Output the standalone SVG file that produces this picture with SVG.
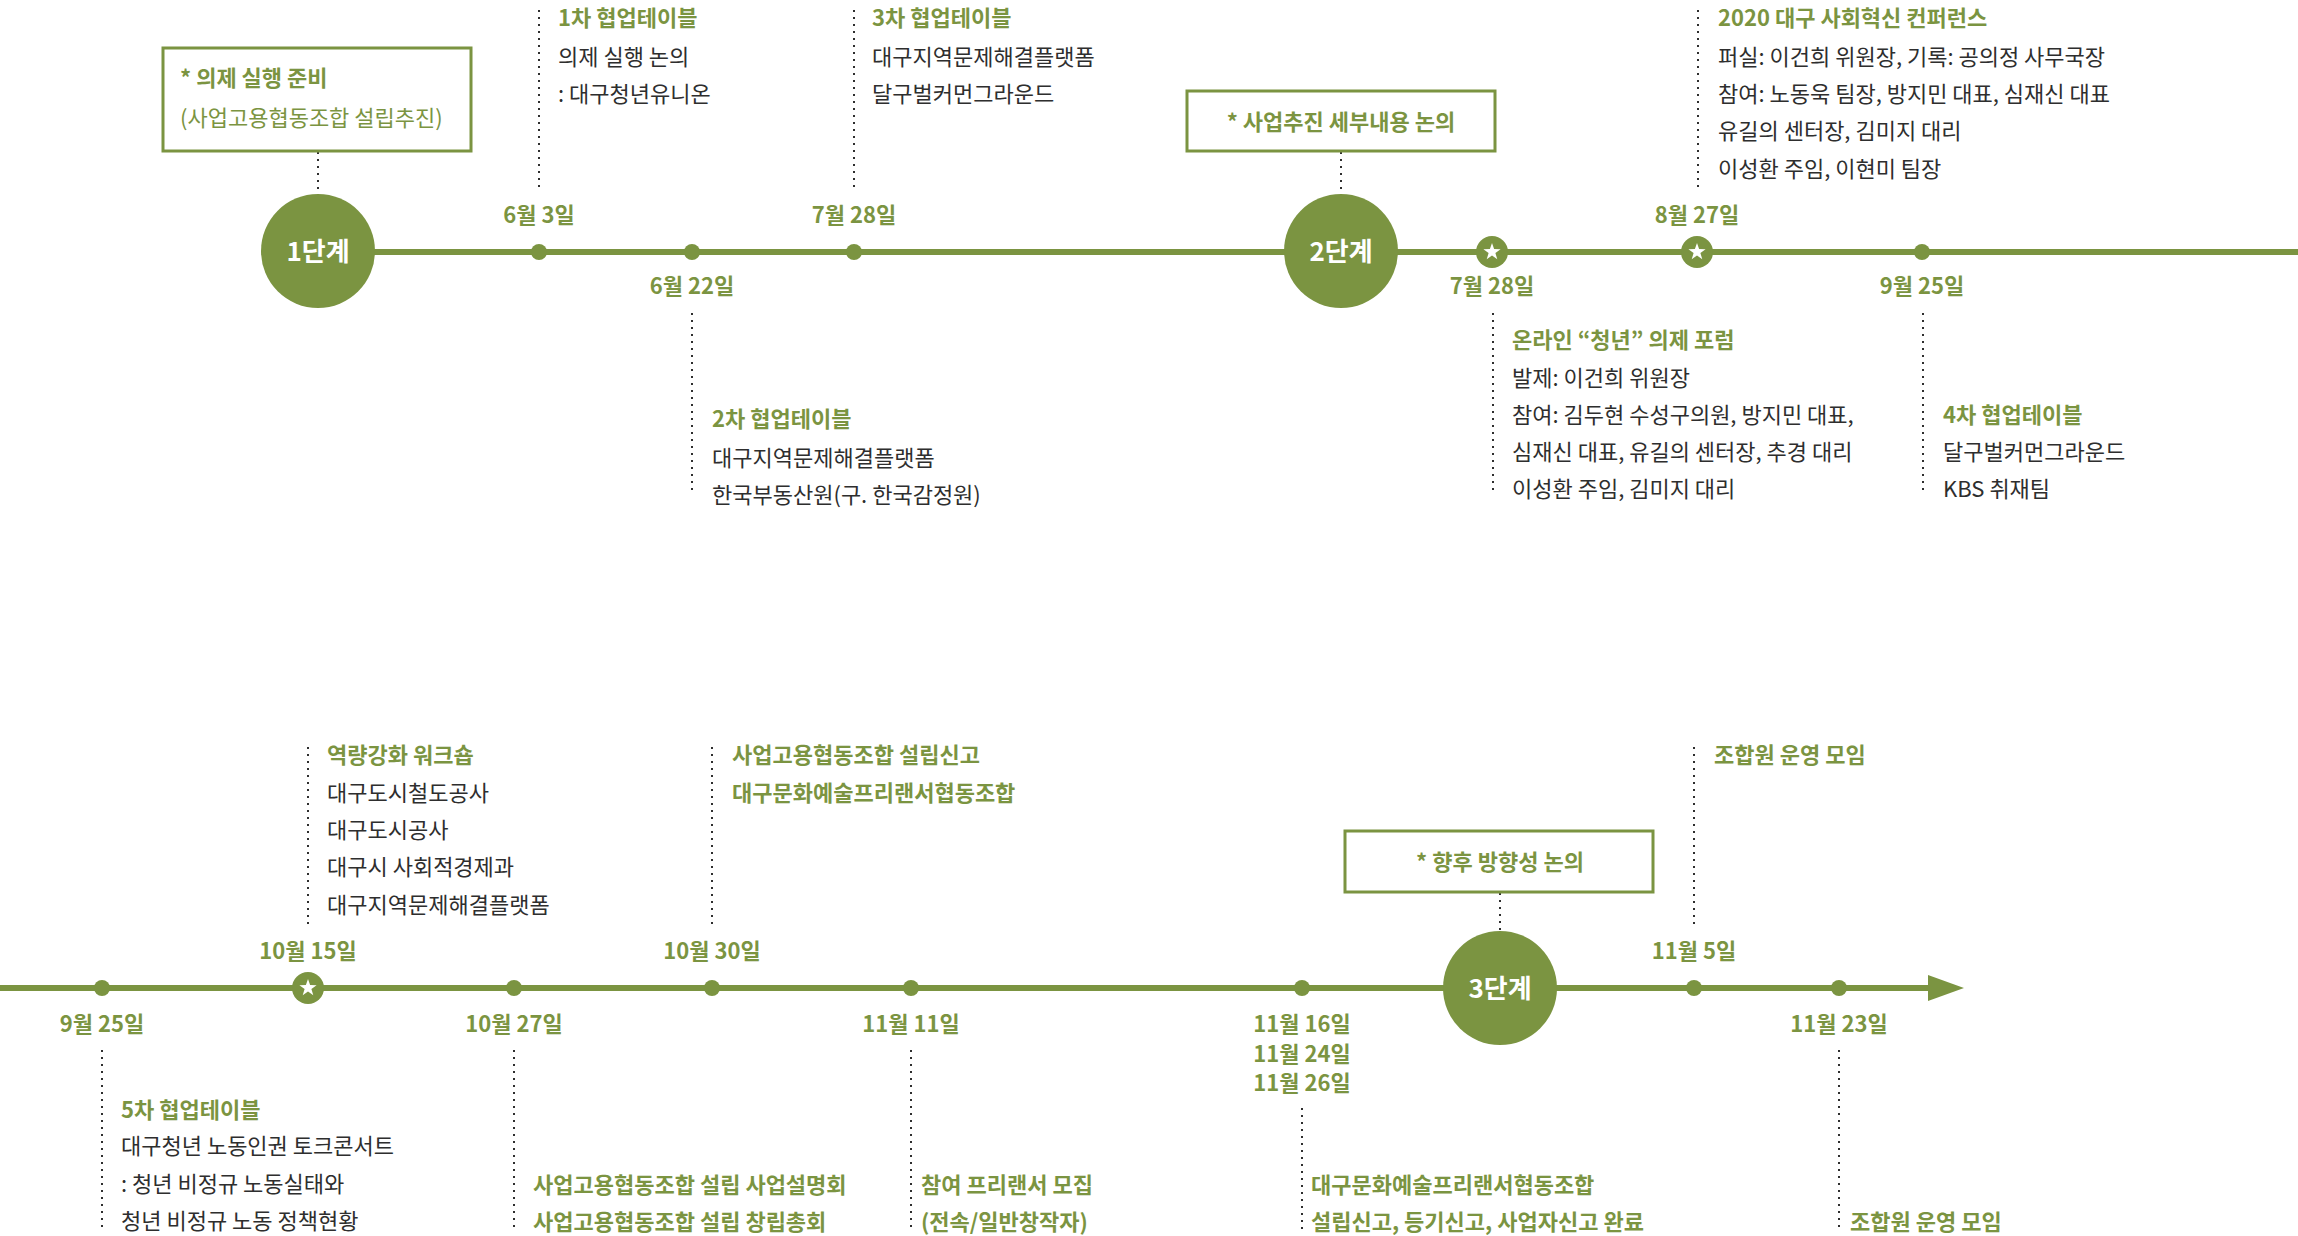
<svg xmlns="http://www.w3.org/2000/svg" width="2298" height="1236" viewBox="0 0 2298 1236">
<style>
text{font-family:"Noto Sans CJK KR","Noto Sans",sans-serif}
.g{fill:#7b9441;font-weight:700;font-size:22px}
.b{fill:#2e2e2e;font-size:22px}
.d{fill:#7b9441;font-weight:700;font-size:22px;text-anchor:middle}
.st{fill:#fff;font-weight:700;font-size:26px;text-anchor:middle}
.bx{fill:#fff;stroke:#7b9441;stroke-width:3}
.bt{fill:#7b9441;font-weight:700;font-size:22px;text-anchor:middle}
.dot{stroke:#2e2e2e;stroke-width:2;stroke-dasharray:2 5;fill:none}
.ln{stroke:#7b9441;stroke-width:6;fill:none}
.gf{fill:#7b9441}
</style>
<defs>
<g id="star"><circle r="16" class="gf"/><polygon points="0,-9 2.1,-2.9 8.6,-2.8 3.4,1.1 5.3,7.3 0,3.6 -5.3,7.3 -3.4,1.1 -8.6,-2.8 -2.1,-2.9" fill="#fff"/></g>
</defs>
<g id="connectors">
<line class="ln" x1="318" y1="252" x2="2298" y2="252"/>
<line class="ln" x1="0" y1="988" x2="1932" y2="988"/>
<polygon class="gf" points="1928,975 1964,988 1928,1001"/>
<line class="dot" x1="318" y1="152" x2="318" y2="194"/>
<line class="dot" x1="539" y1="10" x2="539" y2="190"/>
<line class="dot" x1="692" y1="313" x2="692" y2="493"/>
<line class="dot" x1="854" y1="10" x2="854" y2="190"/>
<line class="dot" x1="1341" y1="152" x2="1341" y2="194"/>
<line class="dot" x1="1493" y1="313" x2="1493" y2="493"/>
<line class="dot" x1="1698" y1="10" x2="1698" y2="190"/>
<line class="dot" x1="1923" y1="313" x2="1923" y2="493"/>
<line class="dot" x1="102" y1="1050" x2="102" y2="1232"/>
<line class="dot" x1="308" y1="747" x2="308" y2="927"/>
<line class="dot" x1="514" y1="1050" x2="514" y2="1232"/>
<line class="dot" x1="712" y1="747" x2="712" y2="927"/>
<line class="dot" x1="911" y1="1050" x2="911" y2="1232"/>
<line class="dot" x1="1302" y1="1108" x2="1302" y2="1232"/>
<line class="dot" x1="1500" y1="893" x2="1500" y2="933"/>
<line class="dot" x1="1694" y1="747" x2="1694" y2="927"/>
<line class="dot" x1="1839" y1="1050" x2="1839" y2="1232"/>
</g>
<g id="box1"><rect class="bx" x="163" y="48" width="308" height="103"/>
<text class="g" x="180" y="86">* 의제 실행 준비</text>
<text class="g" x="180" y="126" style="font-weight:400">(사업고용협동조합 설립추진)</text></g>
<g id="step1"><circle cx="318" cy="251" r="57" class="gf"/><text class="st" x="318" y="261">1단계</text></g>
<g id="jun3"><circle cx="539" cy="252" r="8" class="gf"/><text class="d" x="539" y="223">6월 3일</text>
<text class="g" x="558" y="26">1차 협업테이블</text><text class="b" x="558" y="65">의제 실행 논의</text><text class="b" x="558" y="102">: 대구청년유니온</text></g>
<g id="jun22"><circle cx="692" cy="252" r="8" class="gf"/><text class="d" x="692" y="294">6월 22일</text>
<text class="g" x="712" y="427">2차 협업테이블</text><text class="b" x="712" y="466">대구지역문제해결플랫폼</text><text class="b" x="712" y="503">한국부동산원(구. 한국감정원)</text></g>
<g id="jul28a"><circle cx="854" cy="252" r="8" class="gf"/><text class="d" x="854" y="223">7월 28일</text>
<text class="g" x="872" y="26">3차 협업테이블</text><text class="b" x="872" y="65">대구지역문제해결플랫폼</text><text class="b" x="872" y="102">달구벌커먼그라운드</text></g>
<g id="box2"><rect class="bx" x="1187" y="91" width="308" height="60"/><text class="bt" x="1341" y="130">* 사업추진 세부내용 논의</text></g>
<g id="step2"><circle cx="1341" cy="251" r="57" class="gf"/><text class="st" x="1341" y="261">2단계</text></g>
<g id="jul28b"><use href="#star" x="1492" y="252"/><text class="d" x="1492" y="294">7월 28일</text>
<text class="g" x="1512" y="348">온라인 “청년” 의제 포럼</text><text class="b" x="1512" y="386">발제: 이건희 위원장</text><text class="b" x="1512" y="423">참여: 김두현 수성구의원, 방지민 대표,</text><text class="b" x="1512" y="460">심재신 대표, 유길의 센터장, 추경 대리</text><text class="b" x="1512" y="497">이성환 주임, 김미지 대리</text></g>
<g id="aug27"><use href="#star" x="1697" y="252"/><text class="d" x="1697" y="223">8월 27일</text>
<text class="g" x="1718" y="26">2020 대구 사회혁신 컨퍼런스</text><text class="b" x="1718" y="65">퍼실: 이건희 위원장, 기록: 공의정 사무국장</text><text class="b" x="1718" y="102">참여: 노동욱 팀장, 방지민 대표, 심재신 대표</text><text class="b" x="1718" y="139">유길의 센터장, 김미지 대리</text><text class="b" x="1718" y="177">이성환 주임, 이현미 팀장</text></g>
<g id="sep25a"><circle cx="1922" cy="252" r="8" class="gf"/><text class="d" x="1922" y="294">9월 25일</text>
<text class="g" x="1943" y="423">4차 협업테이블</text><text class="b" x="1943" y="460">달구벌커먼그라운드</text><text class="b" x="1943" y="497">KBS 취재팀</text></g>
<g id="sep25b"><circle cx="102" cy="988" r="8" class="gf"/><text class="d" x="102" y="1032">9월 25일</text>
<text class="g" x="121" y="1118">5차 협업테이블</text><text class="b" x="121" y="1154">대구청년 노동인권 토크콘서트</text><text class="b" x="121" y="1192">: 청년 비정규 노동실태와</text><text class="b" x="121" y="1229">청년 비정규 노동 정책현황</text></g>
<g id="oct15"><use href="#star" x="308" y="988"/><text class="d" x="308" y="959">10월 15일</text>
<text class="g" x="327" y="763">역량강화 워크숍</text><text class="b" x="327" y="801">대구도시철도공사</text><text class="b" x="327" y="838">대구도시공사</text><text class="b" x="327" y="875">대구시 사회적경제과</text><text class="b" x="327" y="913">대구지역문제해결플랫폼</text></g>
<g id="oct27"><circle cx="514" cy="988" r="8" class="gf"/><text class="d" x="514" y="1032">10월 27일</text>
<text class="g" x="533" y="1193">사업고용협동조합 설립 사업설명회</text><text class="g" x="533" y="1230">사업고용협동조합 설립 창립총회</text></g>
<g id="oct30"><circle cx="712" cy="988" r="8" class="gf"/><text class="d" x="712" y="959">10월 30일</text>
<text class="g" x="732" y="763">사업고용협동조합 설립신고</text><text class="g" x="732" y="801">대구문화예술프리랜서협동조합</text></g>
<g id="nov11"><circle cx="911" cy="988" r="8" class="gf"/><text class="d" x="911" y="1032">11월 11일</text>
<text class="g" x="921" y="1193">참여 프리랜서 모집</text><text class="g" x="921" y="1230">(전속/일반창작자)</text></g>
<g id="nov16"><circle cx="1302" cy="988" r="8" class="gf"/><text class="d" x="1302" y="1032">11월 16일</text><text class="d" x="1302" y="1062">11월 24일</text><text class="d" x="1302" y="1091">11월 26일</text>
<text class="g" x="1311" y="1193">대구문화예술프리랜서협동조합</text><text class="g" x="1311" y="1230">설립신고, 등기신고, 사업자신고 완료</text></g>
<g id="box3"><rect class="bx" x="1345" y="831" width="308" height="61"/><text class="bt" x="1500" y="870">* 향후 방향성 논의</text></g>
<g id="step3"><circle cx="1500" cy="988" r="57" class="gf"/><text class="st" x="1500" y="998">3단계</text></g>
<g id="nov5"><circle cx="1694" cy="988" r="8" class="gf"/><text class="d" x="1694" y="959">11월 5일</text>
<text class="g" x="1714" y="763">조합원 운영 모임</text></g>
<g id="nov23"><circle cx="1839" cy="988" r="8" class="gf"/><text class="d" x="1839" y="1032">11월 23일</text>
<text class="g" x="1850" y="1230">조합원 운영 모임</text></g>
</svg>
